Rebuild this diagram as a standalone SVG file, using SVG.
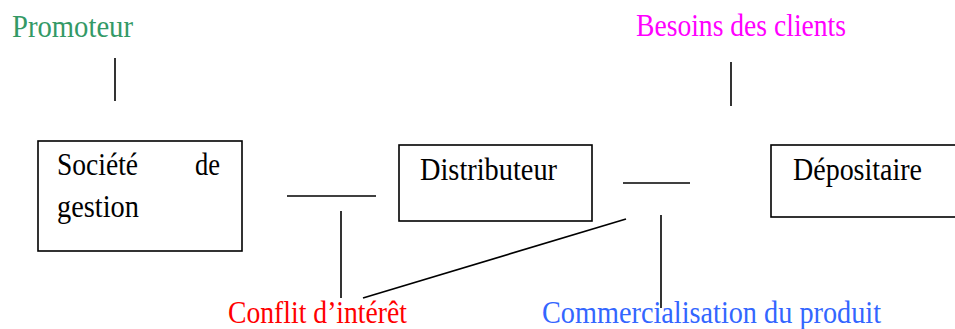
<svg xmlns="http://www.w3.org/2000/svg" width="955" height="329" viewBox="0 0 955 329">
  <style>
    text { font-family: "Liberation Serif", "Times New Roman", serif; font-size: 32px; }
    .box { fill: none; stroke: #000; stroke-width: 1.6; }
    .lbl { fill: #000; }
    .promo { fill: #339966; }
    .besoin { fill: #ff00ff; }
    .conflit { fill: #ff0000; }
    .comm { fill: #3366ff; }
    #connectors line { stroke: #000; stroke-width: 1.6; }
  </style>

  <!-- Outer labels -->
  <g id="promoteur">
    <text class="promo" x="12" y="37" textLength="121" lengthAdjust="spacingAndGlyphs">Promoteur</text>
  </g>
  <g id="besoins">
    <text class="besoin" x="636" y="36" textLength="210" lengthAdjust="spacingAndGlyphs">Besoins des clients</text>
  </g>
  <g id="conflit">
    <text class="conflit" x="228" y="323" textLength="179" lengthAdjust="spacingAndGlyphs">Conflit d’intérêt</text>
  </g>
  <g id="commercialisation">
    <text class="comm" x="542" y="323" textLength="339" lengthAdjust="spacingAndGlyphs">Commercialisation du produit</text>
  </g>

  <!-- Boxes -->
  <g id="societe">
    <rect class="box" x="38" y="141" width="204" height="110"/>
    <text class="lbl" x="57" y="175" textLength="81" lengthAdjust="spacingAndGlyphs">Société</text>
    <text class="lbl" x="195" y="175" textLength="25" lengthAdjust="spacingAndGlyphs">de</text>
    <text class="lbl" x="57" y="217" textLength="82" lengthAdjust="spacingAndGlyphs">gestion</text>
  </g>
  <g id="distributeur">
    <rect class="box" x="399" y="145" width="193" height="76"/>
    <text class="lbl" x="420" y="180" textLength="137" lengthAdjust="spacingAndGlyphs">Distributeur</text>
  </g>
  <g id="depositaire">
    <rect class="box" x="771" y="145" width="190" height="72"/>
    <text class="lbl" x="793" y="180" textLength="129" lengthAdjust="spacingAndGlyphs">Dépositaire</text>
  </g>

  <!-- Connector strokes -->
  <g id="connectors">
    <line x1="115" y1="58" x2="115" y2="101"/>
    <line x1="731" y1="62" x2="731" y2="106"/>
    <line x1="287" y1="196" x2="376" y2="196"/>
    <line x1="341" y1="211" x2="341" y2="298"/>
    <line x1="623" y1="183" x2="690" y2="183"/>
    <line x1="661" y1="215" x2="661" y2="308"/>
    <line x1="626" y1="219" x2="363" y2="298"/>
  </g>
</svg>
